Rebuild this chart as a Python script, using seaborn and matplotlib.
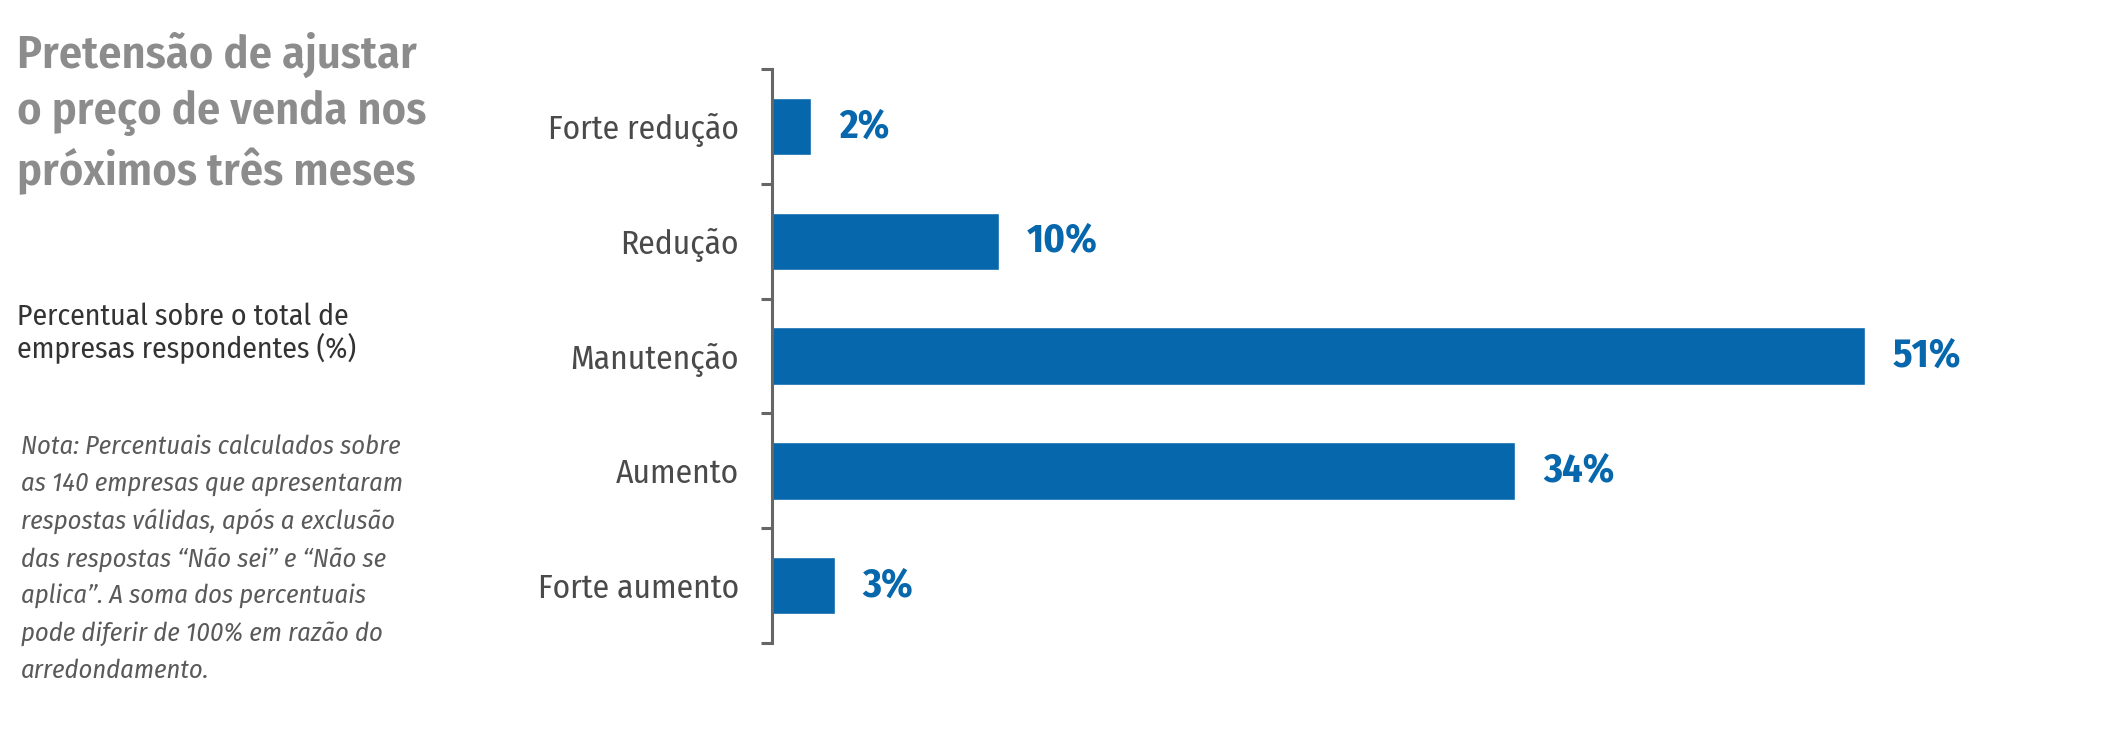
import matplotlib
matplotlib.use("Agg")
import matplotlib.pyplot as plt
from matplotlib import font_manager
import seaborn as sns
import pandas as pd

# dados
categorias = ["Forte redução", "Redução", "Manutenção", "Aumento", "Forte aumento"]
valores = [1.8, 10.5, 50.6, 34.4, 2.9]
rotulos = ["2%", "10%", "51%", "34%", "3%"]

titulo = "Pretensão de ajustar\no preço de venda nos\npróximos três meses"
subtitulo = "Percentual sobre o total de\nempresas respondentes (%)"
nota = ("Nota: Percentuais calculados sobre\n"
        "as 140 empresas que apresentaram\n"
        "respostas válidas, após a exclusão\n"
        "das respostas “Não sei” e “Não se\n"
        "aplica”. A soma dos percentuais\n"
        "pode diferir de 100% em razão do\n"
        "arredondamento.")

azul = "#0767AC"

sns.set_theme(style="white")

# fonte condensada, se houver
nomes = {f.name for f in font_manager.fontManager.ttflist}
fonte = next((n for n in ["Fira Sans Condensed", "Roboto Condensed",
                          "Liberation Sans Narrow"] if n in nomes), "Roboto")
plt.rcParams["font.family"] = [fonte, "DejaVu Sans"]

df = pd.DataFrame({"categoria": categorias, "valor": valores})

fig = plt.figure(figsize=(21.26, 7.3), dpi=100)
ax = fig.add_axes([772 / 2126, 1 - 643 / 730, 1296 / 2126, 574 / 730])

sns.barplot(data=df, x="valor", y="categoria", orient="h", color=azul,
            saturation=1, width=0.5, ax=ax)

ax.set_xlim(0, 60)
ax.set_ylim(4.5, -0.5)
ax.set_xlabel("")
ax.set_ylabel("")
ax.set_xticks([])

for lado in ["top", "right", "bottom"]:
    ax.spines[lado].set_visible(False)
ax.spines["left"].set_color("#666666")
ax.spines["left"].set_linewidth(2.2)

ax.set_yticks([y - 0.5 for y in range(len(categorias) + 1)], minor=True)
ax.tick_params(axis="y", which="minor", left=True, length=8, width=2.2,
               color="#666666")
ax.tick_params(axis="y", which="major", length=0, pad=24,
               labelsize=24, labelcolor="#4a4a4a")

ax.bar_label(ax.containers[0], labels=rotulos, padding=20, fontsize=29,
             fontweight="bold", color=azul)

fig.text(17 / 2126, 1 - 32 / 730, titulo, ha="left", va="top", fontsize=33.3,
         fontweight="semibold", color="#8c8c8c", linespacing=1.32)
fig.text(17 / 2126, 1 - 302 / 730, subtitulo, ha="left", va="top",
         fontsize=21.4, color="#333333", linespacing=1.05)
fig.text(21 / 2126, 1 - 434 / 730, nota, ha="left", va="top", fontsize=19,
         fontstyle="italic", color="#5a5a5a", linespacing=1.61)

fig.savefig("out.png", dpi=100, facecolor="white")
